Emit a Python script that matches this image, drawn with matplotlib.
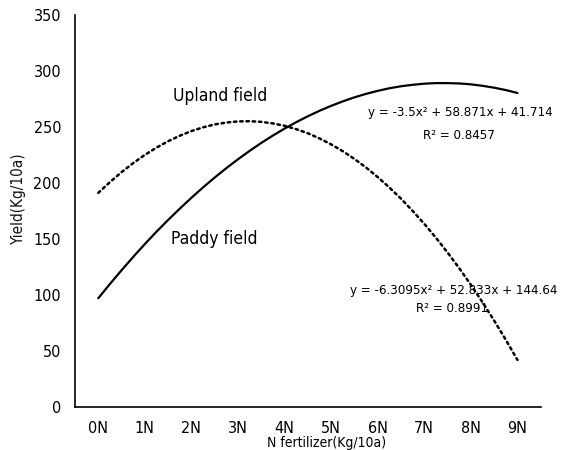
import matplotlib
matplotlib.use("Agg")
import matplotlib.pyplot as plt
import numpy as np

plt.rcParams['font.family'] = ['DejaVu Sans']
plt.rcParams['font.stretch'] = 'condensed'

# x categories (N levels), curves at quarter-step spacing
n_labels = ["0N", "1N", "2N", "3N", "4N", "5N", "6N", "7N", "8N", "9N"]
x_pos = [0, 0.25, 0.5, 0.75, 1, 1.25, 1.5, 1.75, 2, 2.25, 2.5, 2.75, 3, 3.25,
         3.5, 3.75, 4, 4.25, 4.5, 4.75, 5, 5.25, 5.5, 5.75, 6, 6.25, 6.5,
         6.75, 7, 7.25, 7.5, 7.75, 8, 8.25, 8.5, 8.75, 9]

paddy = [97.1, 109.8, 122.1, 134.0, 145.5, 156.5, 167.0, 177.1, 186.8, 196.1,
         204.9, 213.3, 221.2, 228.7, 235.8, 242.4, 248.6, 254.3, 259.6, 264.5,
         268.9, 272.9, 276.5, 279.6, 282.3, 284.6, 286.4, 287.7, 288.7, 289.2,
         289.2, 288.9, 288.1, 286.8, 285.1, 283.0, 280.4]
upland = [191.2, 200.8, 209.7, 217.8, 225.1, 231.6, 237.3, 242.2, 246.4, 249.7,
          252.3, 254.0, 255.0, 255.2, 254.6, 253.2, 251.1, 248.1, 244.4, 239.8,
          234.5, 228.4, 221.5, 213.8, 205.3, 196.0, 186.0, 175.1, 163.5, 151.1,
          137.9, 123.9, 109.1, 93.5, 77.1, 60.0, 42.0]

paddy_eq = "y = -3.5x² + 58.871x + 41.714"
paddy_r2 = "R² = 0.8457"
upland_eq = "y = -6.3095x² + 52.833x + 144.64"
upland_r2 = "R² = 0.8991"

fig = plt.figure(figsize=(5.68, 4.5), dpi=100)
ax = fig.add_axes([0.132, 0.0956, 0.82, 0.871])

ax.plot(x_pos, paddy, color="black", lw=1.6, solid_capstyle="round")
ax.plot(x_pos, upland, color="black", lw=1.8, linestyle=(0, (1, 1.5)),
        dash_capstyle="round")

ax.set_xlim(-0.5, 9.5)
ax.set_ylim(0, 350)
ax.set_xticks(range(len(n_labels)))
ax.set_xticklabels(n_labels)
ax.set_yticks(np.arange(0, 351, 50))
ax.tick_params(axis="both", length=0, labelsize=11.5, pad=10)

for s in ["top", "right"]:
    ax.spines[s].set_visible(False)
ax.spines["left"].set_linewidth(1.2)
ax.spines["bottom"].set_linewidth(1.2)

ax.set_xlabel("N fertilizer(Kg/10a)", fontsize=10)
ax.xaxis.set_label_coords(0.54, -0.075)
ax.set_ylabel("Yield(Kg/10a)", fontsize=11, color="#111111")
ax.yaxis.set_label_coords(-0.105, 0.53)

ax.text(2.61, 278, "Upland field", fontsize=12.5, ha="center", va="center")
ax.text(2.50, 150, "Paddy field", fontsize=12.5, ha="center", va="center")
ax.text(7.78, 263, paddy_eq, fontsize=9.5, ha="center", va="center")
ax.text(7.74, 242, paddy_r2, fontsize=9.5, ha="center", va="center")
ax.text(7.63, 104, upland_eq, fontsize=9.5, ha="center", va="center")
ax.text(7.59, 88, upland_r2, fontsize=9.5, ha="center", va="center")

fig.savefig("out.png", dpi=100)
